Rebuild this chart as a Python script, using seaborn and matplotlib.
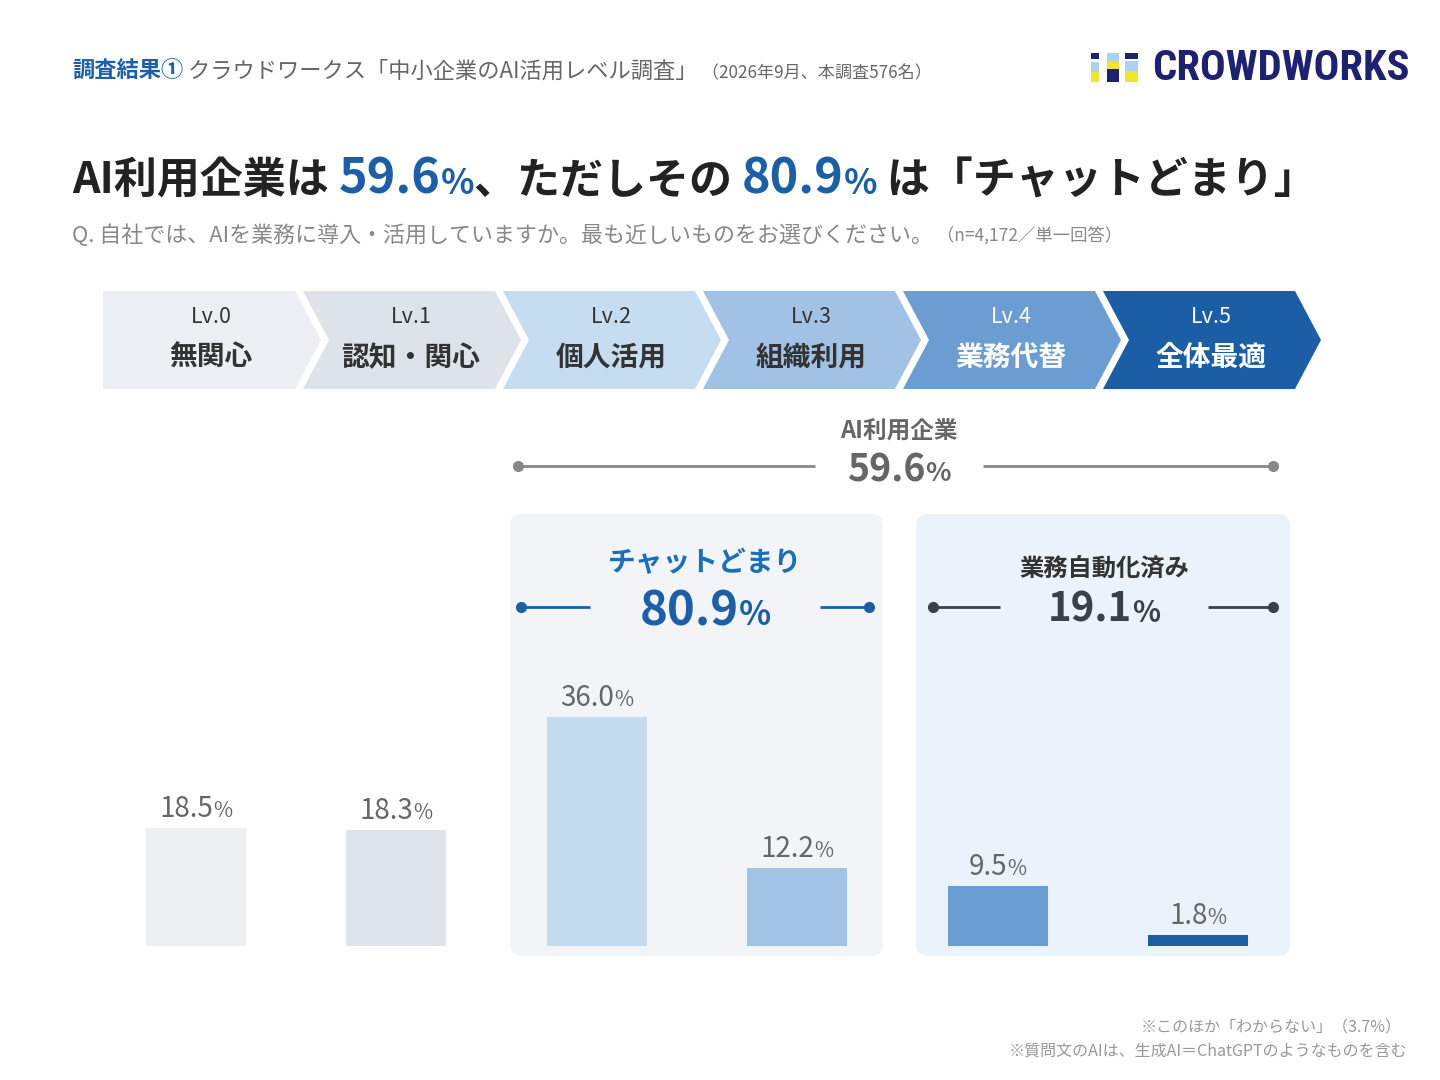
import matplotlib
matplotlib.use("Agg")
import matplotlib.pyplot as plt
import seaborn as sns
from matplotlib.patches import Polygon, FancyBboxPatch, Rectangle

#-----------------------------------------
# datos
#-----------------------------------------
levels = ["Lv.0", "Lv.1", "Lv.2", "Lv.3", "Lv.4", "Lv.5"]
level_names = ["無関心", "認知・関心", "個人活用", "組織利用", "業務代替", "全体最適"]
shares = [18.5, 18.3, 36.0, 12.2, 9.5, 1.8]
ai_user_share = 59.6
chat_share = 80.9
auto_share = 19.1
unknown_share = 3.7
n_total = "4,172"

bar_colors = ["#ECEEF2", "#DFE3EA", "#C5DBF0", "#A3C3E6", "#6A9DD3", "#1C5FA6"]
chev_colors = ["#EBEEF2", "#DEE3EA", "#C6DCF1", "#A2C2E5", "#6B9DD3", "#1C5EA5"]
chev_text = ["#333333", "#333333", "#333333", "#333333", "#FFFFFF", "#FFFFFF"]

BLUE = "#1C5FA6"
DARK = "#222222"
GRAY = "#666666"

sns.set_theme(style="white")
plt.rcParams['font.family'] = ['Noto Sans CJK JP', 'DejaVu Sans']

fig = plt.figure(figsize=(14.4, 10.8), dpi=100)
fig.patch.set_facecolor("white")

# eje de fondo en pixeles
ax = fig.add_axes([0, 0, 1, 1])
ax.set_xlim(0, 1440)
ax.set_ylim(1080, 0)
ax.axis("off")
ax.set_zorder(0)

renderer = fig.canvas.get_renderer()


def runs(x, y, parts, ha="left"):
    # parts: (texto, tamaño, color, peso)
    objs = []
    widths = []
    for s, size, color, weight in parts:
        t = ax.text(0, y, s, fontsize=size, color=color, fontweight=weight,
                    va="baseline", ha="left")
        objs.append(t)
        widths.append(t.get_window_extent(renderer).width)
    total = sum(widths)
    if ha == "center":
        start = x - total / 2
    elif ha == "right":
        start = x - total
    else:
        start = x
    for t, w in zip(objs, widths):
        t.set_x(start)
        start += w


def dot_line(x1, x2, y, color, dot_at):
    ax.plot([x1, x2], [y, y], color=color, lw=2, solid_capstyle="butt")
    ax.plot([dot_at], [y], "o", color=color, ms=7)


#-----------------------------------------
# cabecera
#-----------------------------------------
runs(72, 78, [("調査結果①", 16, BLUE, "bold"),
              (" クラウドワークス「中小企業のAI活用レベル調査」", 16, GRAY, "normal"),
              (" （2026年9月、本調査576名）", 12.3, GRAY, "normal")])

# logo
icon = [(1091, 53, 8, 6, "#1E2070"), (1091, 62, 8, 10, "#A9D4F0"), (1091, 72, 8, 10, "#F2E52B"),
        (1107, 53, 12, 8, "#A9D4F0"), (1107, 61, 12, 8, "#F2E52B"), (1107, 69, 12, 13, "#1E2070"),
        (1125, 53, 13, 6, "#1E2070"), (1125, 61, 13, 10, "#A9D4F0"), (1125, 71, 13, 11, "#F2E52B")]
for x0, y0, w, h, c in icon:
    ax.add_patch(Rectangle((x0, y0), w, h, color=c, lw=0))
logo = ax.text(1410, 68, "CROWDWORKS", fontsize=30, color="#1E2070", fontweight="bold",
               family=["Roboto Condensed", "Liberation Sans Narrow", "Roboto"],
               ha="right", va="center")
lw_px = logo.get_window_extent(renderer).width
logo.set_fontsize(30 * 257 / lw_px)

#-----------------------------------------
# titulo
#-----------------------------------------
runs(72, 194, [("AI利用企業は ", 31, DARK, "bold"),
               (f"{ai_user_share:.1f}", 35, BLUE, "bold"),
               ("%", 25, BLUE, "bold"),
               ("、ただしその ", 31, DARK, "bold"),
               (f"{chat_share:.1f}", 35, BLUE, "bold"),
               ("%", 25, BLUE, "bold"),
               (" は「チャットどまり」", 31, DARK, "bold")])

runs(72, 242, [("Q. 自社では、AIを業務に導入・活用していますか。最も近しいものをお選びください。", 15.8, "#888888", "normal"),
               (f" （n={n_total}／単一回答）", 12.5, "#888888", "normal")])

#-----------------------------------------
# chevrons
#-----------------------------------------
for i in range(6):
    x0 = 103 + 200 * i
    xr = 295 + 200 * i
    tip = 321 + 200 * i
    notch = x0 + 26 if i > 0 else x0
    pts = [(x0, 291), (xr, 291), (tip, 340), (xr, 389), (x0, 389), (notch, 340)]
    ax.add_patch(Polygon(pts, closed=True, color=chev_colors[i], lw=0))
    cx = x0 + 108
    ax.text(cx, 317, levels[i], fontsize=15.5, color=chev_text[i], ha="center", va="center")
    ax.text(cx, 358, level_names[i], fontsize=20, color=chev_text[i], fontweight="bold",
            ha="center", va="center")

#-----------------------------------------
# resumen AI利用企業
#-----------------------------------------
ax.text(899, 432, "AI利用企業", fontsize=17, color=GRAY, fontweight="bold", ha="center", va="center")
runs(899, 481, [(f"{ai_user_share:.1f}", 27, GRAY, "bold"), ("%", 19, GRAY, "bold")], ha="center")
dot_line(518, 815, 466, "#888888", 518)
dot_line(983, 1273, 466, "#888888", 1273)

# paneles
ax.add_patch(FancyBboxPatch((510, 514), 373, 442, boxstyle="round,pad=0,rounding_size=12",
                            color="#F2F4F7", lw=0))
ax.add_patch(FancyBboxPatch((916, 514), 374, 442, boxstyle="round,pad=0,rounding_size=12",
                            color="#EAF2FB", lw=0))

ax.text(705, 563, "チャットどまり", fontsize=20, color="#1A6FB8", fontweight="bold",
        ha="center", va="center")
runs(705, 625, [(f"{chat_share:.1f}", 34, BLUE, "bold"), ("%", 24, BLUE, "bold")], ha="center")
dot_line(521, 590, 607, BLUE, 521)
dot_line(820, 869, 607, BLUE, 869)

ax.text(1104, 569, "業務自動化済み", fontsize=17.5, color="#333333", fontweight="bold",
        ha="center", va="center")
runs(1104, 622, [(f"{auto_share:.1f}", 29, "#3A3F4A", "bold"), ("%", 21, "#3A3F4A", "bold")], ha="center")
dot_line(933, 1000, 607, "#3A3F4A", 933)
dot_line(1208, 1273, 607, "#3A3F4A", 1273)

#-----------------------------------------
# barras
#-----------------------------------------
bax = fig.add_axes([95.7 / 1440, 134 / 1080, (1298.3 - 95.7) / 1440, 254.4 / 1080])
bax.set_zorder(1)
bax.patch.set_alpha(0)
sns.barplot(x=levels, y=shares, hue=levels, palette=bar_colors, legend=False,
            width=0.5, saturation=1, linewidth=0, ax=bax)
bax.set_xlim(-0.5, 5.5)
bax.set_ylim(0, 40)
bax.axis("off")

for i, v in enumerate(shares):
    px, py = bax.transData.transform((i, v))
    runs(px, 1080 - py - 11, [(f"{v:.1f}", 20, GRAY, "normal"), ("%", 15, GRAY, "normal")], ha="center")

#-----------------------------------------
# notas
#-----------------------------------------
ax.text(1402, 1028, f"※このほか「わからない」（{unknown_share}%）", fontsize=11.5, color="#999999",
        ha="right", va="center")
ax.text(1407, 1051, "※質問文のAIは、生成AI＝ChatGPTのようなものを含む", fontsize=11.5, color="#999999",
        ha="right", va="center")

fig.savefig("out.png", dpi=100, facecolor="white")
